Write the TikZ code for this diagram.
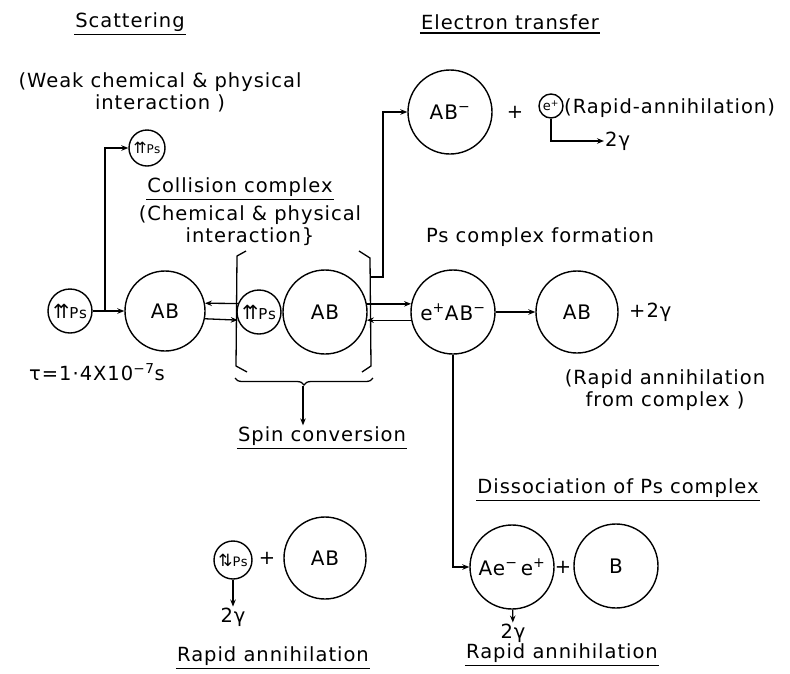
\documentclass[tikz,border=0pt]{standalone}
\usepackage{fontspec}
\setmainfont{DejaVu Sans}[LetterSpace=5]
\usetikzlibrary{arrows.meta,decorations.pathreplacing}
\newcommand\myupup{{\fontsize{1.3em}{1em}\selectfont ⇈}}
\newcommand\myupdn{{\fontsize{1.3em}{1em}\selectfont ⇅}}
\tikzset{
  lbl/.style={font=\fontsize{19.5}{22}\selectfont, inner sep=1pt, align=center},
  blob/.style={circle, draw, line width=1.4pt, inner sep=0pt, font=\fontsize{20}{22}\selectfont},
  psblob/.style={circle, draw, line width=1.4pt, inner sep=0pt, font=\fontsize{15}{16}\selectfont},
  arr/.style={line width=1.3pt, -{Stealth[length=7pt,width=5.5pt]}},
  ln/.style={line width=1.3pt},
  ul/.style={line width=1.5pt}
}
\begin{document}
\begin{tikzpicture}[x=1pt,y=-1pt]
\useasboundingbox (0,0) rectangle (790,673);
% headings
\node[lbl] (scat) at (130,22) {Scattering};
\draw[ul] ([yshift=-2pt]scat.south west) -- ([yshift=-2pt]scat.south east);
\node[lbl] (weak) at (160,92) {(Weak chemical \& physical\\ interaction )};
\node[lbl] (etr) at (510,22) {Electron transfer};
\draw[ul] ([yshift=-2pt]etr.south west) -- ([yshift=-2pt]etr.south east);
\node[lbl] (coll) at (240,187) {Collision complex};
\draw[ul] ([yshift=-2pt]coll.south west) -- ([yshift=-2pt]coll.south east);
\node[lbl] (chem) at (250,226) {(Chemical \& physical\\ interaction\}};
\node[lbl] (psf) at (540,237) {Ps complex formation};
\node[lbl, anchor=west] (tau) at (28,372) {τ=1·4X10\textsuperscript{−7}s};
\node[lbl] (spin) at (322,436) {Spin conversion};
\draw[ul] ([yshift=-2pt]spin.south west) -- ([yshift=-2pt]spin.south east);
\node[lbl, anchor=west] (rapa) at (563,108) {(Rapid-annihilation)};
\node[lbl, anchor=west] (g1) at (604,141) {2γ};
\node[lbl, anchor=west] (pg) at (628,312) {+2γ};
\node[lbl] (rfc) at (665,390) {(Rapid annihilation\\ from complex )};
\node[lbl] (diss) at (618,488) {Dissociation of Ps complex};
\draw[ul] ([yshift=-2pt]diss.south west) -- ([yshift=-2pt]diss.south east);
\node[lbl] (g2) at (233,617) {2γ};
\node[lbl] (ra1) at (273,656) {Rapid annihilation};
\draw[ul] ([yshift=-2pt]ra1.south west) -- ([yshift=-2pt]ra1.south east);
\node[lbl] (g3) at (513,633) {2γ};
\node[lbl] (ra2) at (562,653) {Rapid annihilation};
\draw[ul] ([yshift=-2pt]ra2.south west) -- ([yshift=-2pt]ra2.south east);
\node[lbl] (p1) at (515,112) {+};
\node[lbl] (p2) at (267,558) {+};
\node[lbl] (p3) at (563,567) {+};
% circles
\node[psblob, minimum size=44pt] (ps1) at (70,311) {\myupup Ps};
\node[psblob, minimum size=36pt, font=\fontsize{12}{14}\selectfont] (ps2) at (147,148) {\myupup Ps};
\node[blob, minimum size=80pt] (ab1) at (165,311) {AB};
\node[psblob, minimum size=44pt] (ps3) at (259,312) {\myupup Ps};
\node[blob, minimum size=84pt] (ab2) at (325,312) {AB};
\node[blob, minimum size=84pt] (abm) at (450,112) {AB\textsuperscript{−}};
\node[psblob, minimum size=24pt, font=\fontsize{13}{14}\selectfont] (ec) at (551,106) {e\textsuperscript{+}};
\node[blob, minimum size=84pt] (eab) at (453,312) {e\textsuperscript{+}AB\textsuperscript{−}};
\node[blob, minimum size=82pt] (ab3) at (577,312) {AB};
\node[psblob, minimum size=38pt, font=\fontsize{13}{14}\selectfont] (ps4) at (233,560) {\myupdn Ps};
\node[blob, minimum size=82pt] (ab4) at (325,558) {AB};
\node[blob, minimum size=84pt] (aee) at (512,567) {Ae\textsuperscript{−}\,e\textsuperscript{+}};
\node[blob, minimum size=84pt] (bc) at (616,566) {B};
% brackets
\draw[ln] (246,251) -- (237,256) -- (236,366) -- (247,372);
\draw[ln] (359,251) -- (370,258) -- (371,366) -- (362,372);
\draw[ln, decorate, decoration={brace, mirror, amplitude=7pt}] (235,378) -- (373,378);
\coordinate (bt) at (303,386);
\draw[arr] (bt) -- (bt |- spin.north);
% connectors
\coordinate (br1) at (105,311);
\draw[arr] (ps1) -- (ab1);
\draw[arr] (br1) |- (ps2);
\draw[arr] (ps3.158.7) -- (ab1.11.5);
\draw[arr] (ab1.-11.5) -- (ps3.201.3);
\draw[arr] (ab2.11) -- (eab.169);
\draw[arr] (eab.191) -- (ab2.-11);
\coordinate (rb) at (371,277);
\coordinate (rbc) at (383,277);
\draw[arr] (rb) -- (rbc) |- (abm);
\draw[arr] (eab) -- (ab3);
\draw[arr] (eab) |- (aee);
\draw[arr] (ec) |- (g1.west);
\draw[arr] (ps4) -- (g2);
\draw[arr] (aee) -- (g3);
\end{tikzpicture}
\end{document}
